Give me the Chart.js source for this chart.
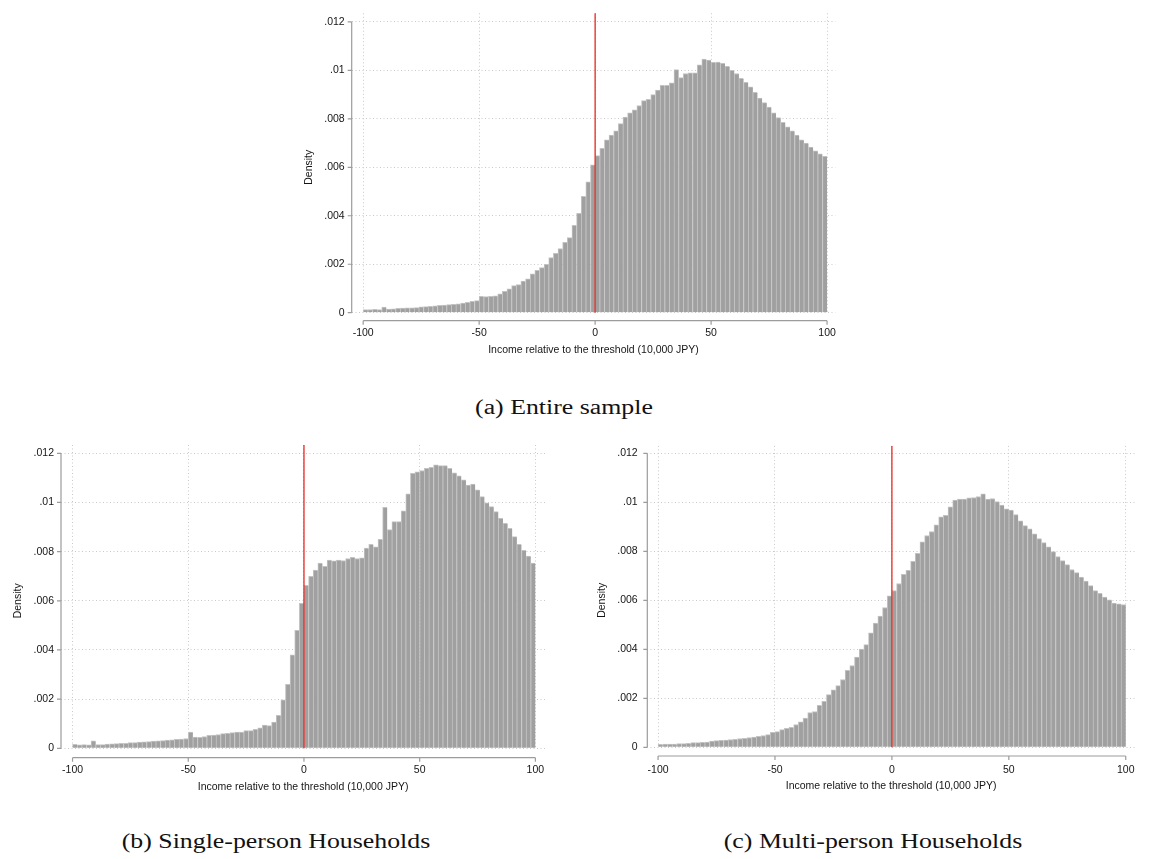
<!DOCTYPE html>
<html>
<head>
<meta charset="utf-8">
<script src="https://cdn.jsdelivr.net/npm/chart.js@4.4.1/dist/chart.umd.min.js"></script>
<style>
  body { margin: 0; background: #fff; width: 1151px; height: 859px; position: relative; overflow: hidden; }
  canvas { position: absolute; }
  .cap { position: absolute; width: 600px; text-align: center; white-space: nowrap;
         font-family: "Liberation Serif", "Times New Roman", serif; font-size: 20.5px; line-height: 20.5px;
         color: #111; transform: scaleX(1.26); }
</style>
</head>
<body>
<canvas id="chartA" width="560" height="362" style="left:290px;top:0px"></canvas>
<canvas id="chartB" width="560" height="372" style="left:0px;top:430px"></canvas>
<canvas id="chartC" width="561" height="372" style="left:590px;top:430px"></canvas>
<div class="cap" style="left:264px;top:397px">(a) Entire sample</div>
<div class="cap" style="left:-24px;top:831px">(b) Single-person Households</div>
<div class="cap" style="left:573px;top:831px">(c) Multi-person Households</div>

<script>
// 막대 왼쪽 경계 (10,000 JPY), 폭 2
var binWidth = 2;
var binLeft = [-100,-98,-96,-94,-92,-90,-88,-86,-84,-82,-80,-78,-76,-74,-72,-70,-68,-66,-64,-62,
  -60,-58,-56,-54,-52,-50,-48,-46,-44,-42,-40,-38,-36,-34,-32,-30,-28,-26,-24,-22,
  -20,-18,-16,-14,-12,-10,-8,-6,-4,-2,0,2,4,6,8,10,12,14,16,18,
  20,22,24,26,28,30,32,34,36,38,40,42,44,46,48,50,52,54,56,58,
  60,62,64,66,68,70,72,74,76,78,80,82,84,86,88,90,92,94,96,98];

var xTicks = [-100, -50, 0, 50, 100];
var yTicks = [0, 0.002, 0.004, 0.006, 0.008, 0.01, 0.012];
var threshold = 0;

var xTitle = 'Income relative to the threshold (10,000 JPY)';
var yTitle = 'Density';

// (a) Entire sample
var densityAll = [
  0.00013,0.00013,0.00014,0.00013,0.00023,0.00015,0.00016,0.00018,0.00019,0.0002,
  0.0002,0.00021,0.00024,0.00025,0.00026,0.00028,0.0003,0.00031,0.00033,0.00035,
  0.00037,0.0004,0.00043,0.00047,0.0005,0.00068,0.00066,0.00068,0.0007,0.00078,
  0.00088,0.00098,0.00112,0.00116,0.0013,0.0014,0.0016,0.00175,0.00186,0.002,
  0.00227,0.00245,0.00265,0.0029,0.0031,0.0036,0.0041,0.0048,0.0054,0.0061,
  0.00648,0.00678,0.00713,0.00733,0.0075,0.0078,0.00807,0.00825,0.00837,0.00855,
  0.00875,0.0088,0.009,0.00918,0.00938,0.00938,0.00948,0.01003,0.0097,0.00987,
  0.0099,0.0099,0.01023,0.01046,0.01042,0.01033,0.01034,0.01029,0.01017,0.01,
  0.00987,0.00967,0.0095,0.00932,0.00909,0.00886,0.00867,0.00848,0.00825,0.00805,
  0.00785,0.00767,0.0075,0.00733,0.00713,0.007,0.00683,0.00668,0.00655,0.00645
];

// (b) Single-person Households
var densitySingle = [
  0.00016,0.00014,0.00015,0.00014,0.0003,0.00015,0.00015,0.00017,0.00018,0.00019,
  0.0002,0.0002,0.00023,0.00023,0.00025,0.00026,0.00027,0.00029,0.0003,0.00031,
  0.00033,0.00034,0.00036,0.00037,0.0004,0.00066,0.00046,0.00045,0.00048,0.00053,
  0.00054,0.00056,0.0006,0.00061,0.00064,0.00066,0.00066,0.00072,0.00072,0.00077,
  0.00083,0.00094,0.00092,0.00107,0.00134,0.00197,0.0026,0.0038,0.0048,0.0059,
  0.00663,0.007,0.00725,0.00753,0.0074,0.00766,0.00763,0.00766,0.00764,0.00772,
  0.00777,0.00772,0.00775,0.00814,0.0083,0.0082,0.0085,0.0098,0.0089,0.00922,
  0.00922,0.00966,0.01035,0.01119,0.01125,0.0113,0.01139,0.01143,0.01153,0.0115,
  0.0115,0.01139,0.01121,0.01108,0.01092,0.01071,0.01075,0.01051,0.01024,0.00999,
  0.00983,0.00963,0.00936,0.00915,0.00895,0.00861,0.0083,0.00805,0.00782,0.00753
];

// (c) Multi-person Households
var densityMulti = [
  0.00012,0.00013,0.00013,0.00013,0.00015,0.00015,0.00016,0.00019,0.00019,0.0002,
  0.00021,0.00025,0.00027,0.00028,0.00029,0.00032,0.00033,0.00036,0.00037,0.0004,
  0.00042,0.00045,0.00048,0.00052,0.00061,0.00064,0.00072,0.00077,0.00082,0.00093,
  0.00104,0.00119,0.00142,0.00146,0.00171,0.00188,0.00215,0.00235,0.00252,0.00277,
  0.00314,0.00334,0.00368,0.00401,0.00419,0.00467,0.00507,0.00536,0.00571,0.00618,
  0.0064,0.00669,0.00706,0.00723,0.00759,0.00792,0.00839,0.00865,0.00881,0.00908,
  0.00941,0.00947,0.00982,0.01009,0.01014,0.01014,0.01019,0.0102,0.01024,0.01035,
  0.01014,0.01016,0.01003,0.00989,0.00974,0.00969,0.0095,0.00925,0.00905,0.00892,
  0.00872,0.00852,0.00836,0.00819,0.00799,0.00779,0.00762,0.00746,0.00726,0.00713,
  0.00695,0.00679,0.0066,0.0064,0.00629,0.00613,0.00602,0.00589,0.00586,0.00583
];

var tickFont = { family: '"Liberation Sans", Arial, sans-serif', size: 10.5 };
var textColor = '#151515';

// 축선, 눈금, 기준선(빨간선), y축 제목
var stataAxes = {
  id: 'stataAxes',
  afterDatasetsDraw: function (chart, args, opts) {
    var ctx = chart.ctx, area = chart.chartArea;
    var x = chart.scales.x, y = chart.scales.y;
    var y0 = y.getPixelForValue(yTicks[0]);
    var yTop = y.getPixelForValue(yTicks[yTicks.length - 1]);
    ctx.save();
    ctx.setLineDash([]);
    ctx.globalAlpha = 1;

    // threshold line
    var tx = x.getPixelForValue(threshold);
    ctx.strokeStyle = 'rgb(232, 40, 32)';
    ctx.lineWidth = 1.3;
    ctx.beginPath();
    ctx.moveTo(tx, area.top);
    ctx.lineTo(tx, y0);
    ctx.stroke();

    // y axis
    ctx.strokeStyle = '#9c9c9c';
    ctx.lineWidth = 1.2;
    ctx.beginPath();
    var ax = area.left;
    ctx.moveTo(ax, yTop);
    ctx.lineTo(ax, y0);
    yTicks.forEach(function (v) {
      var py = y.getPixelForValue(v);
      ctx.moveTo(ax - 4, py);
      ctx.lineTo(ax, py);
    });
    // x axis
    var ay = area.bottom + opts.gap;
    ctx.moveTo(x.getPixelForValue(xTicks[0]), ay);
    ctx.lineTo(x.getPixelForValue(xTicks[xTicks.length - 1]), ay);
    xTicks.forEach(function (v) {
      var px = x.getPixelForValue(v);
      ctx.moveTo(px, ay);
      ctx.lineTo(px, ay + 4);
    });
    ctx.stroke();

    // y title
    ctx.fillStyle = textColor;
    ctx.font = '10.5px "Liberation Sans", Arial, sans-serif';
    ctx.textAlign = 'center';
    ctx.textBaseline = 'middle';
    ctx.translate(opts.titleX, (y0 + yTop) / 2);
    ctx.rotate(-Math.PI / 2);
    ctx.fillText(yTitle, 0, 0);
    ctx.restore();
  }
};

function drawHist(id, values, g) {
  var points = [];
  for (var i = 0; i < values.length; i++) {
    points.push({ x: binLeft[i] + binWidth / 2, y: values[i] });
  }
  var ctx = document.getElementById(id).getContext('2d');
  return new Chart(ctx, {
    type: 'bar',
    data: {
      datasets: [{
        data: points,
        backgroundColor: '#a0a0a0',
        borderColor: '#c3c3c3',
        borderWidth: { left: 1, top: 1, right: 0, bottom: 0 },
        borderSkipped: false,
        barPercentage: 1,
        categoryPercentage: 1
      }]
    },
    options: {
      responsive: false,
      animation: false,
      layout: { padding: { left: 0, right: g.padRight, top: g.padTop, bottom: 0 } },
      scales: {
        x: {
          type: 'linear',
          min: g.xMin,
          max: g.xMax,
          offset: false,
          afterBuildTicks: function (axis) {
            axis.ticks = xTicks.map(function (v) { return { value: v }; });
          },
          afterFit: function (axis) { axis.height = g.xHeight; },
          ticks: {
            autoSkip: false,
            maxRotation: 0,
            padding: g.xTickPad,
            font: tickFont,
            color: textColor,
            callback: function (v) { return String(v); }
          },
          grid: { offset: false, drawTicks: false, color: '#c9c9c9', lineWidth: 1 },
          border: { display: false, dash: [1, 2.5] },
          title: {
            display: true,
            text: xTitle,
            font: tickFont,
            color: textColor,
            padding: { top: 0, bottom: g.xTitlePad }
          }
        },
        y: {
          min: 0,
          max: g.yMax,
          afterBuildTicks: function (axis) {
            axis.ticks = yTicks.map(function (v) { return { value: v }; });
          },
          afterFit: function (axis) { axis.width = g.yWidth; },
          ticks: {
            padding: g.yTickPad,
            font: tickFont,
            color: textColor,
            callback: function (v) {
              return v === 0 ? '0' : String(+v.toFixed(3)).replace('0.', '.');
            }
          },
          grid: { drawTicks: false, color: '#c9c9c9', lineWidth: 1 },
          border: { display: false, dash: [1, 2.5] }
        }
      },
      plugins: {
        legend: { display: false },
        tooltip: { enabled: false },
        stataAxes: { gap: g.axisGap, titleX: g.titleX }
      }
    },
    plugins: [stataAxes]
  });
}

drawHist('chartA', densityAll, {
  padRight: 10, padTop: 8, yWidth: 61.7, xHeight: 49.3,
  xMin: -104.95, xMax: 103.54, yMax: 0.012353,
  yTickPad: 7, xTickPad: 14, xTitlePad: 5.7, axisGap: 8, titleX: 19
});

drawHist('chartB', densitySingle, {
  padRight: 8, padTop: 15, yWidth: 61, xHeight: 53.7,
  xMin: -104.99, xMax: 104.26, yMax: 0.012338,
  yTickPad: 7, xTickPad: 15.7, xTitlePad: 9, axisGap: 9.4, titleX: 18
});

drawHist('chartC', densityMulti, {
  padRight: 5, padTop: 8.3, yWidth: 57.3, xHeight: 54.7,
  xMin: -104.6, xMax: 103.9, yMax: 0.012307,
  yTickPad: 9.6, xTickPad: 16.4, xTitlePad: 9.7, axisGap: 8.7, titleX: 12
});
</script>
</body>
</html>
